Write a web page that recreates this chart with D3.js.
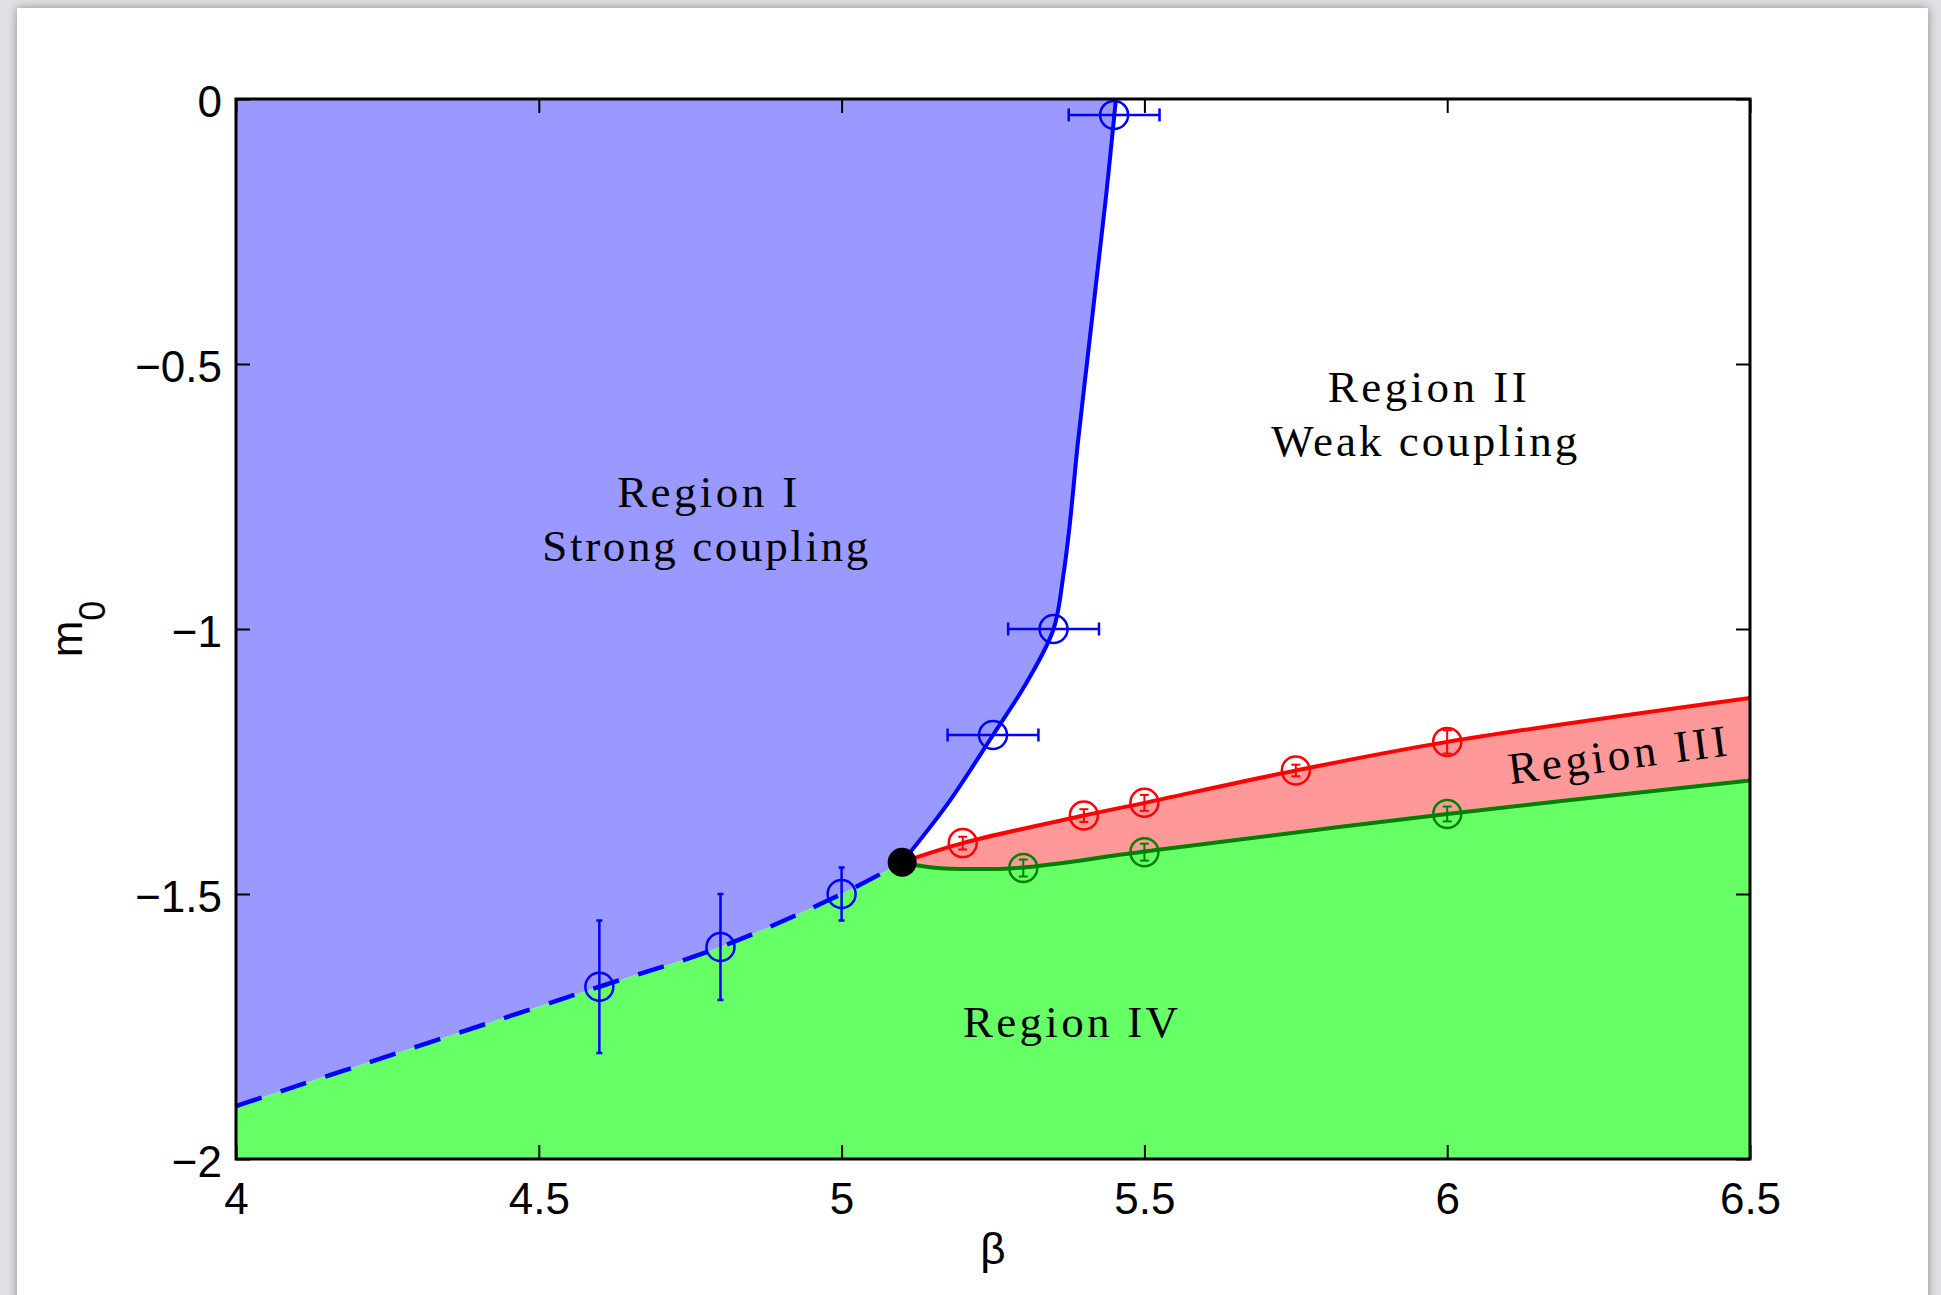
<!DOCTYPE html>
<html>
<head>
<meta charset="utf-8">
<script src="https://cdn.jsdelivr.net/npm/d3@7"></script>
<style>
  html, body { margin: 0; padding: 0; }
  body { width: 1941px; height: 1295px; background: #dfe1e5; overflow: hidden; position: relative; }
  #card { position: absolute; left: 17px; top: 8px; width: 1911px; height: 1320px; background: #fff;
          box-shadow: 0 0 9px rgba(0,0,0,0.38); }
  #chart { position: absolute; left: 0; top: 0; }
</style>
</head>
<body>
<div id="card"></div>
<div id="chart"></div>
<script>
// axis ticks
const xTicks = [4, 4.5, 5, 5.5, 6, 6.5];
const yTicks = [0, -0.5, -1, -1.5, -2];

// phase boundaries (beta, m0)
const blueSolid = [[5.1, -1.44], [5.175, -1.33], [5.25, -1.2], [5.306, -1.1], [5.35, -1.0],
                   [5.366, -0.9], [5.377, -0.8], [5.39, -0.65], [5.405, -0.5], [5.42, -0.35],
                   [5.437, -0.18], [5.453, 0]];
const blueDashed = [[4.0, -1.9], [4.6, -1.675], [4.8, -1.6], [5.0, -1.5], [5.1, -1.44]];
const redLine = [[5.1, -1.44], [5.2, -1.404], [5.4, -1.352], [5.5, -1.328], [5.75, -1.267], [6.0, -1.213], [6.5, -1.13]];
const greenLine = [[5.1, -1.44], [5.15, -1.45], [5.22, -1.453], [5.3, -1.45], [5.5, -1.42], [6.0, -1.349], [6.5, -1.286]];

// measured points with error bars
const blueBeta = [5.45, 5.35, 5.25, 5.0, 4.8, 4.6];
const blueM    = [-0.03, -1.0, -1.2, -1.5, -1.6, -1.675];
const blueXErr = [0.075, 0.075, 0.075, 0, 0, 0];
const blueYErr = [0, 0, 0, 0.05, 0.1, 0.125];

const redBeta = [5.2, 5.4, 5.5, 5.75, 6.0];
const redM    = [-1.404, -1.352, -1.328, -1.267, -1.213];
const redErr  = [0.012, 0.012, 0.015, 0.011, 0.022];

const greenBeta = [5.3, 5.5, 6.0];
const greenM    = [-1.451, -1.421, -1.349];
const greenErr  = [0.016, 0.016, 0.014];

const criticalPoint = [5.1, -1.44];

// region labels: text, beta, m0 (baseline), text width
const regionLabels = [
  ['Region I', 4.778, -0.770, 180],
  ['Strong coupling', 4.775, -0.872, 326],
  ['Region II', 5.967, -0.572, 199],
  ['Weak coupling', 5.962, -0.674, 306],
  ['Region IV', 5.378, -1.770, 215]
];

const W = 1941, H = 1295;
const margin = {left: 236, right: 1750, top: 99, bottom: 1159};

const svg = d3.select('#chart').append('svg').attr('width', W).attr('height', H);

const x = d3.scaleLinear().domain([4, 6.5]).range([margin.left, margin.right]);
const y = d3.scaleLinear().domain([-2, 0]).range([margin.bottom, margin.top]);

const line = d3.line()
    .x((d) => x(d[0]))
    .y((d) => y(d[1]))
    .curve(d3.curveCatmullRom.alpha(0.5));

const rev = (a) => a.slice().reverse();
const cont = (p) => p.replace(/^M/, 'L');

svg.append('clipPath').attr('id', 'plotClip')
    .append('rect')
    .attr('x', margin.left).attr('y', margin.top)
    .attr('width', margin.right - margin.left).attr('height', margin.bottom - margin.top);

const plot = svg.append('g').attr('clip-path', 'url(#plotClip)');

// region fills
plot.append('path')
    .attr('d', `M${x(4)},${y(0)}L${x(blueSolid[blueSolid.length - 1][0])},${y(0)}` +
        cont(line(rev(blueSolid))) + cont(line(rev(blueDashed))) + 'Z')
    .attr('fill', '#9999ff');

plot.append('path')
    .attr('d', `M${x(4)},${y(-2)}` + cont(line(blueDashed)) + cont(line(greenLine)) +
        `L${x(6.5)},${y(-2)}Z`)
    .attr('fill', '#66ff66');

plot.append('path')
    .attr('d', line(redLine) + cont(line(rev(greenLine))) + 'Z')
    .attr('fill', '#ff9999');

// boundary lines
plot.append('path').attr('d', line(blueDashed)).attr('fill', 'none')
    .attr('stroke', '#0000ff').attr('stroke-width', 4.5).attr('stroke-dasharray', '27,20');
plot.append('path').attr('d', line(blueSolid)).attr('fill', 'none')
    .attr('stroke', '#0000ff').attr('stroke-width', 4);
plot.append('path').attr('d', line(redLine)).attr('fill', 'none')
    .attr('stroke', '#ff0000').attr('stroke-width', 4);
plot.append('path').attr('d', line(greenLine)).attr('fill', 'none')
    .attr('stroke', '#008000').attr('stroke-width', 4);

// error bars and markers
function drawPoints(beta, m, xErr, yErr, color, capV, capH, sw) {
    const g = plot.append('g').attr('stroke', color).attr('fill', 'none');
    beta.forEach((b, i) => {
        const cx = x(b), cy = y(m[i]);
        if (xErr[i] > 0) {
            const x0 = x(b - xErr[i]), x1 = x(b + xErr[i]);
            g.append('line').attr('x1', x0).attr('x2', x1).attr('y1', cy).attr('y2', cy).attr('stroke-width', sw);
            [x0, x1].forEach((xx) => g.append('line').attr('x1', xx).attr('x2', xx)
                .attr('y1', cy - capH / 2).attr('y2', cy + capH / 2).attr('stroke-width', sw));
        }
        if (yErr[i] > 0) {
            const y0 = y(m[i] - yErr[i]), y1 = y(m[i] + yErr[i]);
            g.append('line').attr('x1', cx).attr('x2', cx).attr('y1', y0).attr('y2', y1).attr('stroke-width', sw);
            [y0, y1].forEach((yy) => g.append('line').attr('y1', yy).attr('y2', yy)
                .attr('x1', cx - capV / 2).attr('x2', cx + capV / 2).attr('stroke-width', sw));
        }
        g.append('circle').attr('cx', cx).attr('cy', cy).attr('r', 14).attr('stroke-width', 2.5);
    });
}

const zeros = (a) => a.map(() => 0);
drawPoints(blueBeta, blueM, blueXErr, blueYErr, '#0000ff', 6, 13, 2.5);
drawPoints(redBeta, redM, zeros(redBeta), redErr, '#ff0000', 9, 0, 2);
drawPoints(greenBeta, greenM, zeros(greenBeta), greenErr, '#008000', 9, 0, 2);

plot.append('circle')
    .attr('cx', x(criticalPoint[0])).attr('cy', y(criticalPoint[1]))
    .attr('r', 14.5).attr('fill', '#000');

// region labels
const labelFont = '"Liberation Serif", "Times New Roman", serif';
svg.append('g').selectAll('text')
    .data(regionLabels)
    .enter().append('text')
    .attr('x', (d) => x(d[1]))
    .attr('y', (d) => y(d[2]))
    .attr('text-anchor', 'middle')
    .attr('textLength', (d) => d[3])
    .attr('lengthAdjust', 'spacing')
    .attr('font-family', labelFont)
    .attr('font-size', 45)
    .attr('fill', '#000')
    .text((d) => d[0]);

svg.append('text')
    .attr('transform', `translate(${x(6.284)},${y(-1.266)}) rotate(-7.5)`)
    .attr('text-anchor', 'middle')
    .attr('textLength', 220)
    .attr('lengthAdjust', 'spacing')
    .attr('font-family', labelFont)
    .attr('font-size', 45)
    .text('Region III');

// axes
const fmt = d3.format('~f');
const tickFont = '"Liberation Sans", Arial, Helvetica, sans-serif';

function styleAxis(g) {
    g.select('.domain').remove();
    g.selectAll('.tick line').attr('stroke', '#000').attr('stroke-width', 2);
    g.selectAll('text').attr('font-family', tickFont).attr('font-size', 44).attr('fill', '#000');
}

svg.append('g').attr('transform', `translate(0,${margin.bottom})`)
    .call(d3.axisBottom(x).tickValues(xTicks).tickFormat(fmt).tickSize(-14).tickPadding(24))
    .call(styleAxis);
svg.append('g').attr('transform', `translate(0,${margin.top})`)
    .call(d3.axisTop(x).tickValues(xTicks).tickFormat('').tickSize(-14))
    .call(styleAxis);
svg.append('g').attr('transform', `translate(${margin.left},0)`)
    .call(d3.axisLeft(y).tickValues(yTicks).tickFormat(fmt).tickSize(-14).tickPadding(14))
    .call(styleAxis)
    .selectAll('text').attr('dy', '0.4em');
svg.append('g').attr('transform', `translate(${margin.right},0)`)
    .call(d3.axisRight(y).tickValues(yTicks).tickFormat('').tickSize(-14))
    .call(styleAxis);

svg.append('rect')
    .attr('x', margin.left).attr('y', margin.top)
    .attr('width', margin.right - margin.left).attr('height', margin.bottom - margin.top)
    .attr('fill', 'none').attr('stroke', '#000').attr('stroke-width', 3);

// axis titles
svg.append('text')
    .attr('x', (margin.left + margin.right) / 2)
    .attr('y', 1264)
    .attr('text-anchor', 'middle')
    .attr('font-family', tickFont)
    .attr('font-size', 44)
    .text('β');

const yLabel = svg.append('text')
    .attr('transform', `translate(82,${(margin.top + margin.bottom) / 2}) rotate(-90)`)
    .attr('text-anchor', 'middle')
    .attr('font-family', tickFont)
    .attr('font-size', 44);
yLabel.append('tspan').text('m');
yLabel.append('tspan').attr('dy', 23).attr('font-size', 36).text('0');
</script>
</body>
</html>
